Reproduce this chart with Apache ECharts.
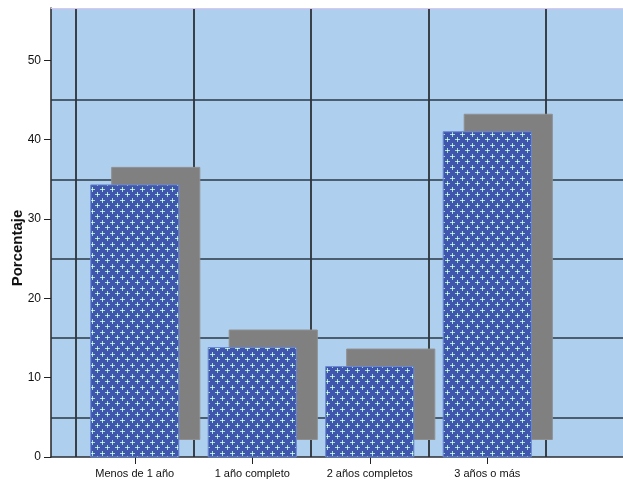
<!DOCTYPE html>
<html><head><meta charset="utf-8">
<script src="https://cdn.jsdelivr.net/npm/echarts@6/dist/echarts.min.js"></script>
<style>html,body{margin:0;padding:0;background:#fff}#c{width:623px;height:483px}</style>
</head><body><div id="c"></div>
<script>
const categories = ['Menos de 1 año', '1 año completo', '2 años completos', '3 años o más'];
const percentages = [34.3, 13.8, 11.4, 41.0];
const yTickValues = [0, 10, 20, 30, 40, 50];
const backGridValues = [5, 15, 25, 35, 45];
const yMax = 56.6;

function makePattern() {
  const c = document.createElement('canvas');
  c.width = 10; c.height = 11;
  const g = c.getContext('2d');
  g.fillStyle = '#3f55ae'; g.fillRect(0, 0, 10, 11);
  function plus(cx, cy) {
    g.fillStyle = '#a4e4cc';
    g.fillRect(cx - 2, cy, 5, 1); g.fillRect(cx, cy - 2, 1, 5);
    g.fillStyle = '#e6fff0'; g.fillRect(cx, cy, 1, 1);
  }
  plus(2, 2); plus(7, 7);
  return c;
}
const pattern = makePattern();

const chart = echarts.init(document.getElementById('c'), null, {renderer: 'canvas'});
const FONT = '"Liberation Sans", Arial, sans-serif';

chart.setOption({
  animation: false,
  backgroundColor: '#ffffff',
  grid: [
    {left: 51, top: 8, right: 0, bottom: 26, show: true, backgroundColor: '#aecfee', borderWidth: 0},
    {left: 76, top: 8, right: 77, bottom: 26}
  ],
  xAxis: [
    {gridIndex: 0, type: 'value', min: 0, max: 1, axisLine: {show: true, lineStyle: {color: '#2a2f36', width: 1.5}},
      axisTick: {show: false}, axisLabel: {show: false}, splitLine: {show: false}},
    {gridIndex: 0, type: 'value', min: 0, max: 1, position: 'top', axisLine: {show: true, lineStyle: {color: '#dcc6ee', width: 1}},
      axisTick: {show: false}, axisLabel: {show: false}, splitLine: {show: false}},
    {gridIndex: 1, type: 'category', data: categories, axisLine: {show: false},
      axisTick: {show: true, alignWithLabel: true, length: 7, lineStyle: {color: '#222', width: 1}},
      axisLabel: {margin: 11, fontSize: 11, color: '#111', fontFamily: FONT},
      splitLine: {show: true, lineStyle: {color: '#111', width: 1.5}}}
  ],
  yAxis: [
    {gridIndex: 0, type: 'value', min: 0, max: yMax,
      axisLine: {show: true, lineStyle: {color: '#222', width: 1.5}},
      axisTick: {show: true, length: 7, customValues: yTickValues, lineStyle: {color: '#222'}},
      axisLabel: {customValues: yTickValues, margin: 10, fontSize: 12, color: '#111', fontFamily: FONT},
      splitLine: {show: false}},
    {gridIndex: 1, type: 'value', min: 0, max: yMax, show: false, splitLine: {show: false}}
  ],
  graphic: [
    {type: 'text', x: 18, y: 248, rotation: Math.PI / 2,
      style: {text: 'Porcentaje', font: 'bold 15px ' + FONT, fill: '#111', textAlign: 'center', textVerticalAlign: 'middle'}}
  ],
  series: [
    {type: 'line', xAxisIndex: 0, yAxisIndex: 0, data: [], z: 1, silent: true,
      markLine: {silent: true, z: 1, symbol: 'none', label: {show: false},
        lineStyle: {color: '#2a3846', width: 1.5, type: 'solid'},
        data: backGridValues.map(v => ({yAxis: v}))}},
    {type: 'custom', xAxisIndex: 2, yAxisIndex: 1, z: 10,
      data: categories.map((c, i) => [i, percentages[i]]),
      encode: {x: 0, y: 1},
      renderItem: function (params, api) {
        const idx = api.value(0), v = api.value(1);
        const top = api.coord([idx, v]);
        const base = api.coord([idx, 0]);
        const w = api.size([1, 0])[0] * 0.75;
        const x = top[0] - w / 2;
        const h = base[1] - top[1];
        return {type: 'group', children: [
          {type: 'rect', shape: {x: x + 21, y: top[1] - 17.5, width: w, height: h},
            style: {fill: '#808080', stroke: '#8f8f8f', lineWidth: 1}},
          {type: 'rect', shape: {x: x, y: top[1], width: w, height: h},
            style: {fill: {image: pattern, repeat: 'repeat'}, stroke: '#6a88d2', lineWidth: 1}}
        ]};
      }}
  ]
});
</script></body></html>
